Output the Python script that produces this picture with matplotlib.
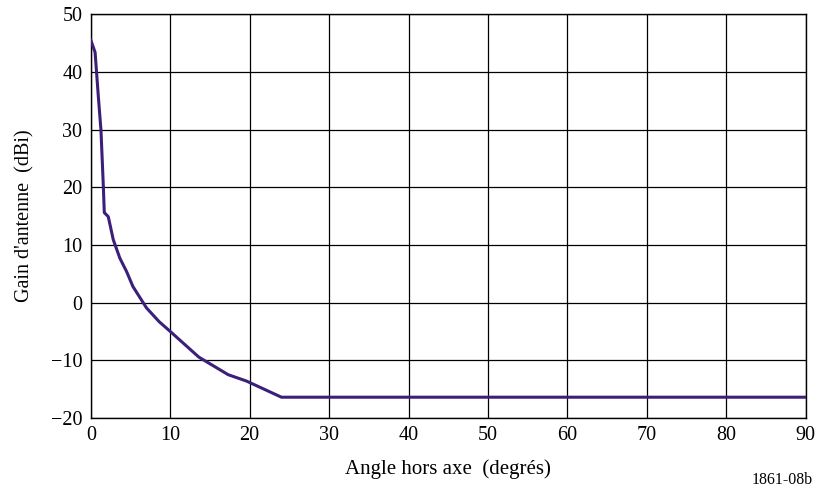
import matplotlib
matplotlib.use('Agg')
import matplotlib.pyplot as plt

# Angle hors axe (degrés) and gain (dBi)
angle = [0, 0.54, 0.95, 1.28, 1.58, 1.7, 2.2, 2.83, 3.66, 4.5, 5.3, 7.0, 8.6,
         10.0, 13.6, 17.3, 19.6, 24.0, 90]
gain = [45.5, 43.4, 35.7, 29.9, 20.1, 15.6, 14.9, 10.9, 7.7, 5.4, 2.8, -0.9, -3.3,
        -5.0, -9.45, -12.5, -13.6, -16.4, -16.4]

xticks = list(range(0, 91, 10))
yticks = list(range(-20, 51, 10))
yticklabels = [('\u2212' + str(-v)) if v < 0 else str(v) for v in yticks]

plt.rcParams['font.family'] = ['Liberation Serif', 'DejaVu Serif']

fig = plt.figure(figsize=(8.18, 4.9), dpi=100)
ax = fig.add_axes([0.111, 0.147, 0.874, 0.824])

ax.plot(angle, gain, color='#3b1f78', linewidth=2.2, zorder=3)

ax.set_xlim(0, 90)
ax.set_ylim(-20, 50)
ax.set_xticks(xticks)
ax.set_yticks(yticks)
ax.set_yticklabels(yticklabels)
ax.grid(True, color='black', linewidth=0.9)
ax.tick_params(length=0, labelsize=14.5, pad=6)
for s in ax.spines.values():
    s.set_linewidth(1.0)

ax.set_xlabel("Angle hors axe  (degrés)", fontsize=15, labelpad=10)
ax.set_ylabel("Gain d'antenne  (dBi)", fontsize=14.5, labelpad=12)
fig.text(0.994, 0.02, "1861-08b", ha='right', va='center', fontsize=11.4)

fig.savefig('out.png', dpi=100, facecolor='white')
